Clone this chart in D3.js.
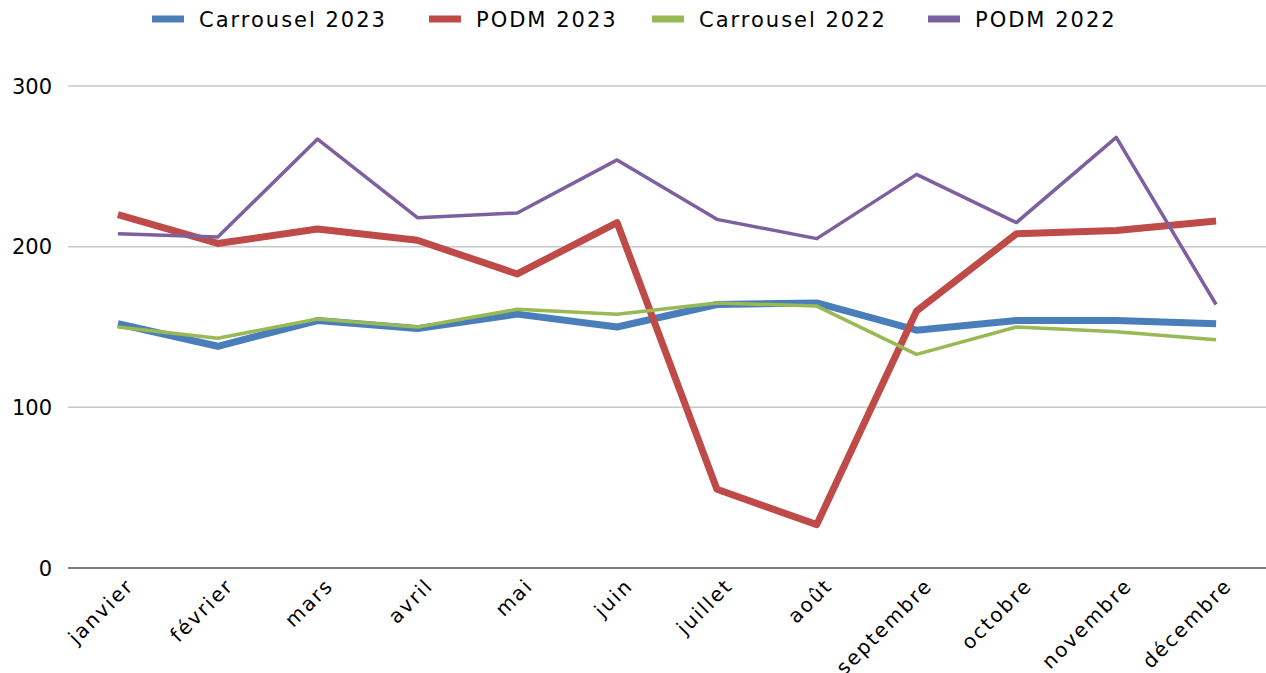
<!DOCTYPE html>
<html>
<head>
<meta charset="utf-8">
<script src="https://cdn.jsdelivr.net/npm/d3@7"></script>
<style>
  body { margin: 0; background: #fff; }
  svg { display: block; font-family: "DejaVu Sans", sans-serif; }
</style>
</head>
<body>
<div id="chart"></div>
<script>
var months = ["janvier", "février", "mars", "avril", "mai", "juin", "juillet", "août", "septembre", "octobre", "novembre", "décembre"];
var seriesNames = ["Carrousel 2023", "PODM 2023", "Carrousel 2022", "PODM 2022"];
var carrousel2023 = [152, 138, 154, 149, 158, 150, 164, 165, 148, 154, 154, 152];
var podm2023 = [220, 202, 211, 204, 183, 215, 49, 27, 160, 208, 210, 216];
var carrousel2022 = [150, 143, 155, 150, 161, 158, 165, 163, 133, 150, 147, 142];
var podm2022 = [208, 206, 267, 218, 221, 254, 217, 205, 245, 215, 268, 164];
var yTicks = [0, 100, 200, 300];

var colors = ["#4a7ebb", "#be4b48", "#98b954", "#7d60a0"];
var widths = [7, 7, 3.5, 3.5];
var allValues = [carrousel2023, podm2023, carrousel2022, podm2022];

var chartW = 1266, chartH = 673;
var plotLeft = 68, plotRight = 1266, plotTop = 86, plotBottom = 568;

var svg = d3.select("#chart").append("svg")
    .attr("width", chartW)
    .attr("height", chartH);

var x = d3.scalePoint().domain(months).range([plotLeft, plotRight]).padding(0.5);
var y = d3.scaleLinear().domain([0, 300]).range([plotBottom, plotTop]);

// gridlines
svg.append("g")
    .selectAll("line")
    .data(yTicks.filter(function (d) { return d > 0; }))
    .enter()
    .append("line")
    .attr("x1", plotLeft).attr("x2", plotRight)
    .attr("y1", function (d) { return y(d); })
    .attr("y2", function (d) { return y(d); })
    .attr("stroke", "#c8c8c8")
    .attr("stroke-width", 1.5);

// baseline
svg.append("line")
    .attr("x1", plotLeft).attr("x2", plotRight)
    .attr("y1", y(0)).attr("y2", y(0))
    .attr("stroke", "#7f7f7f")
    .attr("stroke-width", 2);

// y labels
svg.append("g")
    .selectAll("text")
    .data(yTicks)
    .enter()
    .append("text")
    .attr("x", 52)
    .attr("y", function (d) { return y(d); })
    .attr("dy", "0.36em")
    .attr("text-anchor", "end")
    .attr("font-size", 21)
    .attr("fill", "#000")
    .text(function (d) { return d; });

// x labels, rotated
svg.append("g")
    .selectAll("text")
    .data(months)
    .enter()
    .append("text")
    .attr("transform", function (d) { return "translate(" + (x(d) + 17) + "," + 587 + ") rotate(-45)"; })
    .attr("text-anchor", "end")
    .attr("font-size", 20)
    .attr("letter-spacing", 2)
    .attr("fill", "#000")
    .text(function (d) { return d; });

// lines
var line = d3.line()
    .x(function (d, i) { return x(months[i]); })
    .y(function (d) { return y(d); });

svg.append("g")
    .selectAll("path")
    .data(allValues)
    .enter()
    .append("path")
    .attr("d", line)
    .attr("fill", "none")
    .attr("stroke", function (d, i) { return colors[i]; })
    .attr("stroke-width", function (d, i) { return widths[i]; })
    .attr("stroke-linejoin", "round");

// legend
var legendX = [152, 429, 652, 928];
var legend = svg.append("g")
    .selectAll("g")
    .data(seriesNames)
    .enter()
    .append("g")
    .attr("transform", function (d, i) { return "translate(" + legendX[i] + ",19)"; });

legend.append("rect")
    .attr("x", 0).attr("y", -3.5)
    .attr("width", 32).attr("height", 7)
    .attr("fill", function (d, i) { return colors[i]; });

legend.append("text")
    .attr("x", 47)
    .attr("dy", "0.36em")
    .attr("font-size", 21)
    .attr("letter-spacing", 2)
    .attr("fill", "#000")
    .text(function (d) { return d; });
</script>
</body>
</html>
